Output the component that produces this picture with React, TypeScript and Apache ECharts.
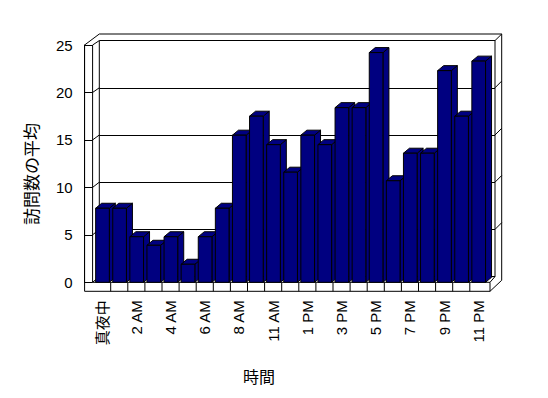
import React, { useEffect, useRef } from "react";
import * as echarts from "echarts";

const hours = [
  "真夜中", "1 AM", "2 AM", "3 AM", "4 AM", "5 AM", "6 AM", "7 AM", "8 AM", "10 AM",
  "11 AM", "12 PM", "1 PM", "2 PM", "3 PM", "4 PM", "5 PM", "6 PM", "7 PM", "8 PM",
  "9 PM", "10 PM", "11 PM",
];
const visits = [
  7.8, 7.8, 4.8, 3.9, 4.8, 1.9, 4.8, 7.8, 15.5, 17.5,
  14.5, 11.6, 15.5, 14.5, 18.4, 18.4, 24.2, 10.7, 13.6, 13.6,
  22.3, 17.5, 23.3,
];
const yMin = 0;
const yMax = 25;
const yStep = 5;
const yTitle = "訪問数の平均";
const xTitle = "時間";

const FONT = "'Liberation Sans', Arial, 'Noto Sans CJK JP', sans-serif";
const CJK = "'Noto Sans CJK JP', sans-serif";

export default function App() {
  const ref = useRef<HTMLDivElement>(null);
  useEffect(() => {
    const chart = echarts.init(ref.current!, null, { renderer: "svg" });
    const DX = 6;
    const DY = 5;
    const barStyle = { fill: "#000080", stroke: "#000", lineWidth: 1 };
    chart.setOption({
      animation: false,
      backgroundColor: "#fff",
      grid: [
        { left: 93.6, right: 61.1, top: 45, bottom: 115.7 },
        { left: 99.3, right: 53, top: 40.6, bottom: 121.4 },
      ],
      xAxis: [
        {
          type: "category",
          gridIndex: 0,
          data: hours,
          axisLine: { show: false },
          axisTick: { show: false },
          splitLine: { show: false },
          axisLabel: {
            interval: 1,
            rotate: 90,
            margin: 18,
            fontSize: 15,
            color: "#000",
            fontFamily: FONT,
          },
        },
        { type: "category", gridIndex: 1, data: hours, show: false },
      ],
      yAxis: [
        {
          type: "value",
          gridIndex: 0,
          min: yMin,
          max: yMax,
          interval: yStep,
          offset: 9,
          axisLine: { show: true, lineStyle: { color: "#000", width: 1 } },
          axisTick: { show: true, inside: true, length: 8, lineStyle: { color: "#000" } },
          axisLabel: { fontSize: 15, color: "#000", margin: 12, fontFamily: FONT },
          splitLine: { show: false },
        },
        {
          type: "value",
          gridIndex: 1,
          min: yMin,
          max: yMax,
          interval: yStep,
          axisLine: { show: false },
          axisTick: { show: false },
          axisLabel: { show: false },
          splitLine: { show: true, lineStyle: { color: "#000", width: 1 } },
        },
      ],
      series: [
        {
          type: "custom",
          xAxisIndex: 0,
          yAxisIndex: 0,
          z: 3,
          data: visits.map((v, i) => [i, v]),
          renderItem: (params: any, api: any) => {
            const i = api.value(0);
            const v = api.value(1);
            const top = api.coord([i, v]);
            const base = api.coord([i, 0]);
            const bw = api.size([1, 0])[0];
            const x0 = top[0] - bw / 2 + bw * 0.12;
            const w = bw * 0.8;
            const x1 = x0 + w;
            const children: any[] = [
              {
                type: "polygon",
                shape: { points: [[x1, top[1]], [x1 + DX, top[1] - DY], [x1 + DX, base[1] - DY], [x1, base[1]]] },
                style: barStyle,
              },
              {
                type: "polygon",
                shape: { points: [[x0, top[1]], [x0 + DX, top[1] - DY], [x1 + DX, top[1] - DY], [x1, top[1]]] },
                style: barStyle,
              },
              {
                type: "rect",
                shape: { x: x0, y: top[1], width: w, height: base[1] - top[1] },
                style: barStyle,
              },
            ];
            if (i > 0) {
              const tx = top[0] - bw / 2;
              children.push({
                type: "line",
                shape: { x1: tx, y1: base[1], x2: tx, y2: base[1] + 9 },
                style: { stroke: "#000", lineWidth: 1 },
              });
            }
            return { type: "group", children };
          },
        },
      ],
    });

    const fy = (v: number) => chart.convertToPixel({ yAxisIndex: 0 }, v) as number;
    const by = (v: number) => chart.convertToPixel({ yAxisIndex: 1 }, v) as number;
    const L = 84.6, Li = 92.6, B = 99.3, R = 495, Ro = 501.7, Fr = 490;
    const topO = 34;
    const floorTop = fy(0), floorBot = floorTop + 9;
    const ln = { stroke: "#000", lineWidth: 1, fill: null };
    const els: any[] = [
      { type: "polyline", shape: { points: [[L, floorBot], [L, fy(yMax)], [B, topO], [Ro, topO], [Ro, floorBot - 11], [Fr, floorBot], [L, floorBot]] }, style: ln },
      { type: "polyline", shape: { points: [[Li, floorTop], [Li, fy(yMax)], [B, by(yMax)]] }, style: ln },
      { type: "line", shape: { x1: B, y1: by(yMax), x2: B, y2: by(0) }, style: ln },
      { type: "line", shape: { x1: R, y1: by(yMax), x2: R, y2: by(0) }, style: ln },
      { type: "line", shape: { x1: R, y1: by(yMax), x2: Ro, y2: topO }, style: ln },
      { type: "line", shape: { x1: B, y1: by(0), x2: R, y2: by(0) }, style: ln },
      { type: "polyline", shape: { points: [[Li, floorTop], [Fr, floorTop], [Fr, floorBot]] }, style: ln },
      { type: "line", shape: { x1: Fr, y1: floorTop, x2: R, y2: by(0) }, style: ln },
    ];
    for (let v = yMin; v < yMax; v += yStep) {
      els.push({ type: "line", shape: { x1: Li, y1: fy(v), x2: B, y2: by(v) }, style: ln });
      if (v > yMin) {
        els.push({ type: "line", shape: { x1: R, y1: by(v), x2: Ro, y2: by(v) - 6.7 }, style: ln });
      }
    }
    els.push({
      type: "text",
      x: 30,
      y: 174,
      rotation: Math.PI / 2,
      style: { text: yTitle, fontSize: 17, fontFamily: CJK, fill: "#000", align: "center", verticalAlign: "middle" },
    });
    els.push({
      type: "text",
      x: 259,
      y: 376,
      style: { text: xTitle, fontSize: 16, fontFamily: CJK, fill: "#000", align: "center", verticalAlign: "middle" },
    });
    chart.setOption({ graphic: els });

    return () => chart.dispose();
  }, []);
  return (
    <div
      ref={ref}
      style={{ position: "absolute", left: 0, top: 0, width: 548, height: 398, background: "#fff" }}
    />
  );
}
